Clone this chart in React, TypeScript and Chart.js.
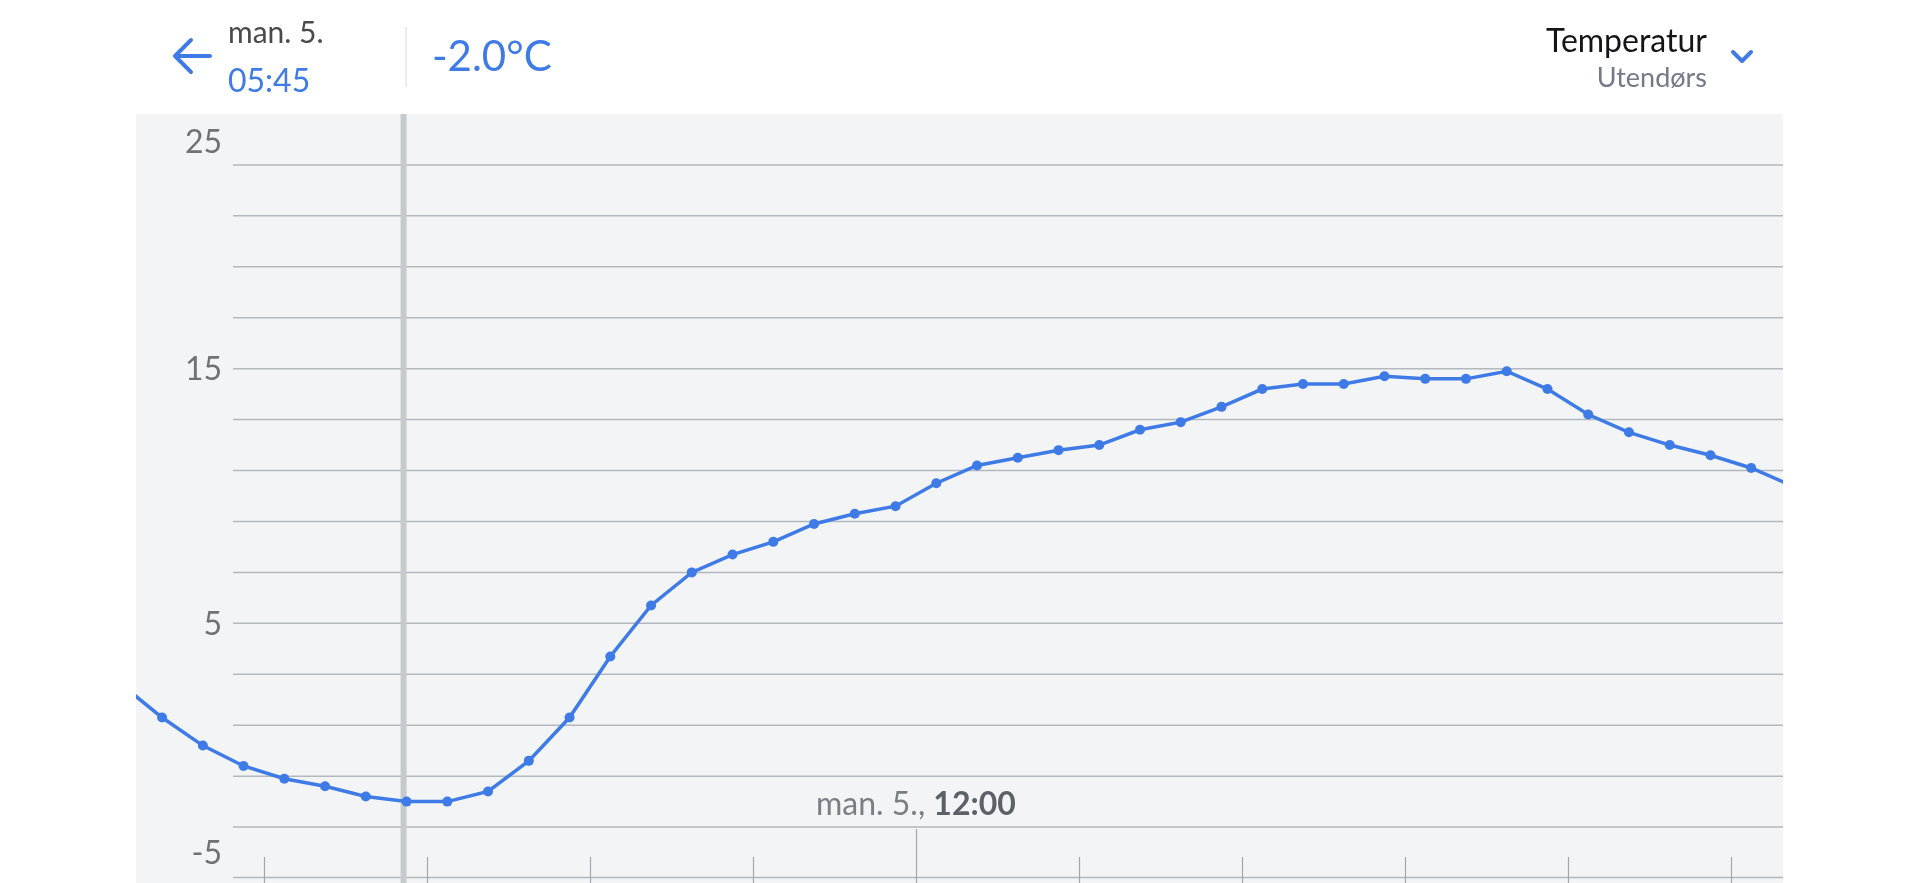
import React, { useEffect, useRef } from "react";
import { Chart, registerables } from "chart.js";

Chart.register(...registerables);

// ---- data ----
const timeLabels = [
  "02:15", "02:45", "03:15", "03:45", "04:15", "04:45", "05:15", "05:45",
  "06:15", "06:45", "07:15", "07:45", "08:15", "08:45", "09:15", "09:45",
  "10:15", "10:45", "11:15", "11:45", "12:15", "12:45", "13:15", "13:45",
  "14:15", "14:45", "15:15", "15:45", "16:15", "16:45", "17:15", "17:45",
  "18:15", "18:45", "19:15", "19:45", "20:15", "20:45", "21:15", "21:45",
  "22:15", "22:45",
];
const temperatures = [
  2.6, 1.3, 0.2, -0.6, -1.1, -1.4, -1.8, -2.0,
  -2.0, -1.6, -0.4, 1.3, 3.7, 5.7, 7.0, 7.7,
  8.2, 8.9, 9.3, 9.6, 10.5, 11.2, 11.5, 11.8,
  12.0, 12.6, 12.9, 13.5, 14.2, 14.4, 14.4, 14.7,
  14.6, 14.6, 14.9, 14.2, 13.2, 12.5, 12.0, 11.6,
  11.1, 10.4,
];
const yGridValues = [-5, -3, -1, 1, 3, 5, 7, 9, 11, 13, 15, 17, 19, 21, 23];
const yLabelValues = [25, 15, 5, -5];
const xTickHours = [4, 6, 8, 10, 12, 14, 16, 18, 20, 22];
const xLabelHour = 12;
const xLabelPrefix = "man. 5., ";
const xLabelTime = "12:00";
const cursorTime = "05:45";
const headerDay = "man. 5.";
const metricTitle = "Temperatur";
const metricSubtitle = "Utendørs";
const xMinHour = 2.43;
const xMaxHour = 22.64;
const yMin = -5;
const yMax = 25;

const toHours = (s: string) => {
  const [h, m] = s.split(":").map(Number);
  return h + m / 60;
};

const BLUE = "#3f7be7";
const FONT = "Lato, 'Open Sans', sans-serif";

const overlayPlugin = {
  id: "overlay",
  beforeDraw(chart: any) {
    const { ctx, chartArea } = chart;
    ctx.save();
    ctx.fillStyle = "#f2f4f6";
    ctx.fillRect(chartArea.left, chartArea.top, chartArea.right - chartArea.left, chart.height - chartArea.top);
    ctx.restore();
  },
  beforeDatasetsDraw(chart: any) {
    const { ctx, chartArea, scales } = chart;
    const xs = scales.x;
    const ys = scales.y;
    ctx.save();
    // horizontal grid lines
    ctx.strokeStyle = "#b3b8be";
    ctx.lineWidth = 1.5;
    yGridValues.forEach((v) => {
      let y = ys.getPixelForValue(v);
      if (y > chartArea.bottom - 1) y = chartArea.bottom - 0.5;
      ctx.beginPath();
      ctx.moveTo(233, y);
      ctx.lineTo(chartArea.right, y);
      ctx.stroke();
    });
    // bottom ticks
    ctx.strokeStyle = "#a2a6ad";
    ctx.lineWidth = 1.2;
    xTickHours.forEach((h) => {
      const x = Math.round(xs.getPixelForValue(h)) + 0.5;
      const len = h === xLabelHour ? 54 : 26;
      ctx.beginPath();
      ctx.moveTo(x, chart.height);
      ctx.lineTo(x, chart.height - len);
      ctx.stroke();
    });
    // cursor line
    const cx = xs.getPixelForValue(toHours(cursorTime)) - 3;
    ctx.fillStyle = "#c6c9cd";
    ctx.fillRect(cx - 3, chartArea.top, 6, chart.height - chartArea.top);
    // y labels
    ctx.fillStyle = "#707276";
    ctx.font = `32px ${FONT}`;
    ctx.textAlign = "right";
    ctx.textBaseline = "alphabetic";
    yLabelValues.forEach((v) => {
      const py = ys.getPixelForValue(v);
      const y = Math.min(Math.max(py, chartArea.top + 27), chartArea.bottom - 26);
      ctx.fillText(String(v), 222, y + 11.5);
    });
    // x label
    const lx = xs.getPixelForValue(xLabelHour);
    ctx.textAlign = "left";
    ctx.font = `32px ${FONT}`;
    const w1 = ctx.measureText(xLabelPrefix).width;
    ctx.font = `bold 32px ${FONT}`;
    const w2 = ctx.measureText(xLabelTime).width;
    const start = lx - (w1 + w2) / 2;
    ctx.font = `32px ${FONT}`;
    ctx.fillStyle = "#7a7e85";
    ctx.fillText(xLabelPrefix, start, 815);
    ctx.font = `bold 32px ${FONT}`;
    ctx.fillStyle = "#5c6168";
    ctx.fillText(xLabelTime, start + w1, 815);
    ctx.restore();
  },
};

export default function App() {
  const canvasRef = useRef<HTMLCanvasElement | null>(null);

  useEffect(() => {
    const canvas = canvasRef.current;
    if (!canvas) return;
    const chart = new Chart(canvas, {
      type: "line",
      data: {
        datasets: [
          {
            data: timeLabels.map((t, i) => ({ x: toHours(t), y: temperatures[i] })),
            borderColor: BLUE,
            borderWidth: 3.5,
            pointRadius: 5,
            pointBorderWidth: 0,
            pointBackgroundColor: BLUE,
            tension: 0,
            clip: 0,
          } as any,
        ],
      },
      options: {
        responsive: false,
        animation: false,
        events: [],
        layout: { padding: { left: 136, top: 114, right: 137, bottom: 1 } },
        scales: {
          x: { type: "linear", min: xMinHour, max: xMaxHour, display: false },
          y: { type: "linear", min: yMin, max: yMax, display: false },
        },
        plugins: { legend: { display: false }, tooltip: { enabled: false } },
      },
      plugins: [overlayPlugin],
    });
    return () => chart.destroy();
  }, []);

  const cursorIdx = timeLabels.indexOf(cursorTime);
  const cursorValue = temperatures[cursorIdx].toFixed(1) + "°C";

  const abs = (o: React.CSSProperties): React.CSSProperties => ({
    position: "absolute",
    lineHeight: 1,
    whiteSpace: "nowrap",
    margin: 0,
    ...o,
  });

  return (
    <div
      style={{
        position: "absolute",
        left: 0,
        top: 0,
        width: 1920,
        height: 883,
        overflow: "hidden",
        background: "#ffffff",
        fontFamily: FONT,
      }}
    >
      <canvas ref={canvasRef} width={1920} height={883} style={{ position: "absolute", left: 0, top: 0 }} />
      <svg style={{ position: "absolute", left: 0, top: 0 }} width={1920} height={114}>
        <path
          d="M210 56 L175 56 M191 40 L175 56 L191 72"
          stroke={BLUE}
          strokeWidth={4}
          fill="none"
          strokeLinecap="round"
          strokeLinejoin="round"
        />
        <line x1={406} y1={27} x2={406} y2={87} stroke="#e4e6e9" strokeWidth={1.5} />
        <path
          d="M1733 52 L1742 61 L1751 52"
          stroke={BLUE}
          strokeWidth={4}
          fill="none"
          strokeLinecap="round"
          strokeLinejoin="round"
        />
      </svg>
      <div style={abs({ left: 228, top: 16, fontSize: 30, color: "#4a4a4c" })}>{headerDay}</div>
      <div style={abs({ left: 228, top: 64, fontSize: 32, color: BLUE })}>{cursorTime}</div>
      <div style={abs({ left: 432, top: 34, fontSize: 42, color: BLUE })}>{cursorValue}</div>
      <div style={abs({ right: 213, top: 24, fontSize: 32, color: "#151517", textAlign: "right" })}>{metricTitle}</div>
      <div style={abs({ right: 213, top: 63, fontSize: 27, color: "#737986", textAlign: "right" })}>{metricSubtitle}</div>
    </div>
  );
}
